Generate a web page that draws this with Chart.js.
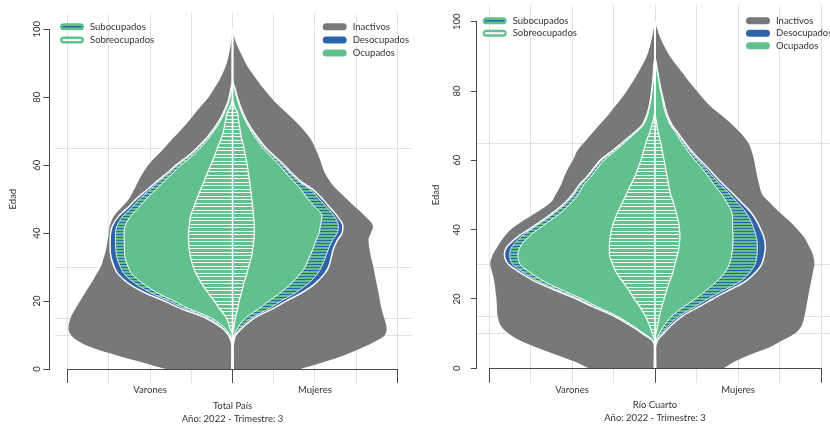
<!DOCTYPE html>
<html lang="es">
<head>
<meta charset="utf-8">
<title>Pirámides de condición de actividad</title>
<script src="https://cdn.jsdelivr.net/npm/chart.js@4.4.1/dist/chart.umd.min.js"></script>
<style>
  html, body { margin: 0; padding: 0; background: #fff; }
  .fila { display: flex; width: 830px; height: 424px; }
  .panel { position: relative; width: 415px; height: 424px; }
</style>
</head>
<body>
<div class="fila">
  <div class="panel"><canvas id="totalPais"></canvas></div>
  <div class="panel"><canvas id="rioCuarto"></canvas></div>
</div>
<script>
// Edades en las que se muestrea cada perfil (eje vertical)
const edades = [0,2,4,6,8,10,12,15,18,20,22,25,28,30,33,35,38,40,42,45,48,50,53,55,58,60,63,65,68,70,73,75,78,80,83,85,88,90,93,95,98,100];
const ticksEdad = [0,20,40,60,80,100];
const lineasEdad = [10,15,30,65];
const categorias = ['Varones','Mujeres'];
const leyendaIzq = ['Subocupados','Sobreocupados'];
const leyendaDer = ['Inactivos','Desocupados','Ocupados'];

// Total País: ancho de cada capa medido desde el eje central
const tpVaronesPoblacion = [1.62,2.20,2.80,3.35,3.72,3.92,3.98,3.93,3.80,3.70,3.60,3.44,3.30,3.20,3.12,3.07,3.03,3.00,2.98,2.88,2.66,2.52,2.38,2.30,2.16,2.05,1.82,1.66,1.44,1.28,1.06,0.93,0.72,0.58,0.42,0.32,0.20,0.14,0.08,0.05,0.015,0];
const tpVaronesActivos   = [0.018,0.016,0.014,0.012,0.03,0.10,0.25,0.65,1.30,1.65,2.05,2.50,2.78,2.87,2.95,2.97,2.97,2.96,2.92,2.76,2.50,2.34,2.05,1.86,1.56,1.37,1.05,0.87,0.63,0.50,0.33,0.24,0.13,0.08,0.03,0,0,0,0,0,0,0];
const tpVaronesOcupados  = [0.009,0.008,0.007,0.006,0.02,0.08,0.22,0.59,1.20,1.53,1.91,2.34,2.63,2.72,2.81,2.83,2.84,2.84,2.81,2.66,2.41,2.26,1.98,1.80,1.51,1.33,1.015,0.84,0.605,0.48,0.315,0.23,0.12,0.07,0.025,0,0,0,0,0,0,0];
const tpVaronesNoSub     = [0,0,0,0.003,0.012,0.06,0.18,0.51,1.10,1.41,1.76,2.15,2.44,2.53,2.61,2.62,2.63,2.63,2.61,2.47,2.24,2.10,1.84,1.68,1.42,1.25,0.955,0.79,0.57,0.45,0.295,0.21,0.11,0.06,0.015,0,0,0,0,0,0,0];
const tpVaronesSobre     = [0,0,0,0,0,0,0.06,0.15,0.33,0.44,0.57,0.74,0.88,0.95,1.02,1.05,1.07,1.07,1.05,1.02,0.93,0.87,0.77,0.70,0.60,0.53,0.43,0.37,0.27,0.22,0.17,0.14,0.03,0,0,0,0,0,0,0,0,0];

const tpMujeresPoblacion = [1.65,2.20,2.70,3.10,3.45,3.70,3.74,3.68,3.61,3.58,3.55,3.50,3.45,3.42,3.36,3.33,3.30,3.36,3.41,3.22,2.95,2.78,2.52,2.38,2.23,2.17,2.08,2.01,1.88,1.75,1.52,1.35,1.08,0.93,0.72,0.60,0.42,0.32,0.20,0.12,0.03,0];
const tpMujeresActivos   = [0.018,0.016,0.014,0.012,0.03,0.08,0.23,0.53,1.02,1.30,1.62,1.99,2.23,2.33,2.40,2.44,2.55,2.66,2.68,2.54,2.33,2.19,1.93,1.68,1.41,1.26,0.99,0.82,0.62,0.50,0.35,0.27,0.17,0.12,0.05,0,0,0,0,0,0,0];
const tpMujeresOcupados  = [0.009,0.008,0.007,0.006,0.02,0.06,0.19,0.46,0.92,1.18,1.47,1.82,2.06,2.16,2.26,2.32,2.43,2.54,2.57,2.47,2.26,2.11,1.87,1.63,1.365,1.22,0.955,0.79,0.595,0.48,0.335,0.26,0.16,0.11,0.045,0,0,0,0,0,0,0];
const tpMujeresNoSub     = [0,0,0,0.003,0.012,0.04,0.12,0.31,0.67,0.88,1.11,1.41,1.64,1.76,1.87,1.94,2.03,2.10,2.13,2.17,1.98,1.83,1.65,1.50,1.275,1.14,0.895,0.74,0.56,0.45,0.315,0.24,0.15,0.10,0.035,0,0,0,0,0,0,0];
const tpMujeresSobre     = [0,0,0,0,0,0,0.03,0.07,0.13,0.16,0.21,0.27,0.35,0.39,0.46,0.49,0.52,0.53,0.53,0.51,0.49,0.47,0.44,0.42,0.38,0.36,0.31,0.28,0.22,0.19,0.15,0.13,0.03,0,0,0,0,0,0,0,0,0];

// Río Cuarto
const rcVaronesPoblacion = [1.60,1.95,2.40,2.85,3.25,3.52,3.70,3.79,3.81,3.82,3.84,3.87,3.93,3.97,3.90,3.80,3.63,3.48,3.25,2.85,2.50,2.40,2.26,2.20,2.08,1.98,1.86,1.72,1.50,1.36,1.13,1.00,0.80,0.68,0.52,0.42,0.28,0.20,0.12,0.08,0.03,0];
const rcVaronesActivos   = [0.018,0.016,0.014,0.012,0.06,0.30,0.55,0.98,1.55,1.89,2.30,2.88,3.30,3.53,3.63,3.57,3.30,3.05,2.80,2.45,2.15,2.00,1.82,1.66,1.46,1.32,1.00,0.80,0.50,0.32,0.20,0.15,0.10,0.08,0.05,0.04,0.02,0,0,0,0,0];
const rcVaronesOcupados  = [0.009,0.008,0.007,0.006,0.05,0.28,0.53,0.95,1.50,1.83,2.23,2.80,3.21,3.43,3.50,3.45,3.22,3.00,2.75,2.40,2.105,1.96,1.785,1.63,1.43,1.29,0.975,0.78,0.485,0.31,0.19,0.145,0.095,0.075,0.045,0.035,0.015,0,0,0,0,0];
const rcVaronesNoSub     = [0,0,0,0.003,0.04,0.26,0.50,0.90,1.43,1.75,2.13,2.66,3.05,3.25,3.30,3.25,3.04,2.83,2.60,2.26,2.00,1.86,1.71,1.56,1.37,1.23,0.93,0.74,0.46,0.29,0.18,0.14,0.09,0.07,0.04,0.03,0.01,0,0,0,0,0];
const rcVaronesSobre     = [0,0,0,0,0,0.065,0.12,0.23,0.38,0.50,0.60,0.78,0.95,1.02,1.10,1.10,1.08,1.05,1.00,0.90,0.78,0.70,0.58,0.50,0.40,0.34,0.27,0.22,0.13,0.08,0.02,0,0,0,0,0,0,0,0,0,0,0];

const rcMujeresPoblacion = [1.65,1.93,2.30,2.75,3.06,3.36,3.52,3.60,3.65,3.68,3.71,3.76,3.81,3.84,3.80,3.72,3.58,3.44,3.28,3.00,2.75,2.59,2.51,2.47,2.42,2.39,2.32,2.25,2.05,1.89,1.60,1.39,1.15,1.01,0.80,0.68,0.48,0.36,0.22,0.14,0.05,0];
const rcMujeresActivos   = [0.018,0.016,0.014,0.012,0.06,0.20,0.36,0.65,1.10,1.39,1.70,2.17,2.45,2.57,2.64,2.66,2.62,2.55,2.47,2.31,2.07,1.91,1.65,1.49,1.26,1.09,0.86,0.73,0.55,0.42,0.30,0.25,0.19,0.15,0.10,0.07,0.03,0,0,0,0,0];
const rcMujeresOcupados  = [0.009,0.008,0.007,0.006,0.04,0.16,0.30,0.57,0.99,1.27,1.58,2.05,2.31,2.41,2.46,2.47,2.44,2.39,2.33,2.19,1.97,1.83,1.575,1.42,1.20,1.04,0.825,0.70,0.525,0.40,0.29,0.24,0.18,0.145,0.095,0.065,0.025,0,0,0,0,0];
const rcMujeresNoSub     = [0,0,0,0.003,0.025,0.10,0.20,0.40,0.72,0.97,1.18,1.48,1.70,1.79,1.85,1.87,1.88,1.87,1.87,1.85,1.72,1.62,1.42,1.30,1.11,0.96,0.77,0.65,0.50,0.38,0.27,0.22,0.17,0.135,0.09,0.06,0.02,0,0,0,0,0];
const rcMujeresSobre     = [0,0,0,0,0,0.02,0.06,0.11,0.17,0.22,0.27,0.35,0.44,0.48,0.55,0.58,0.60,0.59,0.57,0.51,0.44,0.38,0.33,0.30,0.25,0.22,0.17,0.14,0.08,0.05,0.01,0,0,0,0,0,0,0,0,0,0,0];

// Colores
const GRIS = '#76787a', AZUL = '#2f63a8', VERDE = '#62c08f', BLANCO = '#ffffff';
const GRILLA = '#e1e1e1', EJE = '#4a4a4a', TEXTO = '#333333';
const FUENTE = 'Lato, "Open Sans", sans-serif';
const TAM = 9.5;

// Rayado horizontal sobre fondo verde
function rayado(fondo, linea, alto, filas) {
  const c = document.createElement('canvas');
  c.width = 4; c.height = alto;
  const g = c.getContext('2d');
  g.fillStyle = fondo; g.fillRect(0, 0, 4, alto);
  g.fillStyle = linea;
  filas.forEach(f => g.fillRect(0, f, 4, 1));
  return g.createPattern(c, 'repeat');
}
const RAYADO_SUB = rayado(VERDE, AZUL, 3, [0]);
const RAYADO_SOBRE = rayado(VERDE, 'rgba(255,255,255,0.92)', 7, [0, 3]);

// Capas desde la exterior (población) hacia el centro (sobreocupados)
const capas = [
  { fondo: GRIS,         borde: 0,   orden: 5 },
  { fondo: AZUL,         borde: 1.5, orden: 4 },
  { fondo: RAYADO_SUB,   borde: 0.8, orden: 3 },
  { fondo: VERDE,        borde: 1,   orden: 2 },
  { fondo: RAYADO_SOBRE, borde: 1.2, orden: 1 }
];

const muestras = {
  Inactivos:     { color: GRIS },
  Desocupados:   { color: AZUL },
  Ocupados:      { color: VERDE },
  Subocupados:   { color: VERDE, interior: AZUL, ancho: 1.4 },
  Sobreocupados: { color: VERDE, interior: BLANCO, ancho: 2 }
};

const leyenda = {
  id: 'leyenda',
  afterDraw(chart, args, o) {
    const { ctx, chartArea: a } = chart;
    const grupos = [
      { x: a.left + o.dxIzq, items: leyendaIzq },
      { x: a.right + o.dxDer, items: leyendaDer }
    ];
    ctx.save();
    ctx.font = TAM + 'px ' + FUENTE;
    ctx.textBaseline = 'middle';
    ctx.textAlign = 'left';
    ctx.lineCap = 'round';
    grupos.forEach(g => {
      g.items.forEach((nombre, i) => {
        const y = a.top + o.dy + i * o.paso;
        const m = muestras[nombre];
        ctx.strokeStyle = m.color; ctx.lineWidth = 7;
        ctx.beginPath(); ctx.moveTo(g.x + 3.5, y); ctx.lineTo(g.x + 20.5, y); ctx.stroke();
        if (m.interior) {
          ctx.strokeStyle = m.interior; ctx.lineWidth = m.ancho;
          ctx.beginPath(); ctx.moveTo(g.x + 3, y); ctx.lineTo(g.x + 21, y); ctx.stroke();
        }
        ctx.fillStyle = TEXTO;
        ctx.fillText(nombre, g.x + 30, y);
      });
    });
    ctx.restore();
  }
};

function crearGrafico(id, series, cima, titulo, p) {
  const datasets = [];
  [[-1, series.varones], [1, series.mujeres]].forEach(([signo, valores]) => {
    valores.forEach((serie, k) => {
      const c = capas[k];
      datasets.push({
        data: edades.map((e, i) => ({ x: signo * serie[i], y: e })),
        showLine: true,
        fill: 'origin',
        backgroundColor: c.fondo,
        borderColor: BLANCO,
        borderWidth: c.borde,
        pointRadius: 0,
        pointHoverRadius: 0,
        cubicInterpolationMode: 'monotone',
        order: c.orden,
        xAxisID: 'x', yAxisID: 'y'
      });
    });
  });
  // Línea divisoria entre varones y mujeres
  datasets.push({
    data: [{ x: 0, y: 0 }, { x: 0, y: cima }],
    showLine: true, fill: false, borderColor: BLANCO, borderWidth: 1.6,
    pointRadius: 0, pointHoverRadius: 0, order: 0, xAxisID: 'x', yAxisID: 'y'
  });

  const fuente = { family: FUENTE, size: TAM };
  const ticksGrilla = s => { s.ticks = lineasEdad.map(v => ({ value: v })); };

  return new Chart(document.getElementById(id), {
    type: 'scatter',
    data: { datasets },
    plugins: [leyenda],
    options: {
      indexAxis: 'y',
      responsive: true,
      maintainAspectRatio: false,
      animation: false,
      devicePixelRatio: 1,
      events: [],
      layout: { padding: { left: 0, right: p.padDer, top: p.padSup, bottom: 0 } },
      plugins: {
        legend: { display: false },
        tooltip: { enabled: false },
        leyenda: { dxIzq: p.legIzq, dxDer: p.legDer, dy: p.legY, paso: p.legPaso }
      },
      scales: {
        x: {
          type: 'linear', axis: 'x', position: 'bottom', min: -4, max: 4,
          ticks: {
            stepSize: 1, autoSkip: false, maxRotation: 0, padding: 1,
            font: fuente, color: TEXTO,
            callback: v => v === -2 ? categorias[0] : (v === 2 ? categorias[1] : '')
          },
          grid: {
            color: GRILLA, lineWidth: 1, drawTicks: true, tickLength: p.extInf,
            tickColor: c => (c.tick && (Math.abs(c.tick.value) === 4 || c.tick.value === 0)) ? EJE : GRILLA
          },
          border: { display: true, color: EJE, width: 1, z: 1 },
          title: {
            display: true, text: titulo, color: TEXTO,
            font: { family: FUENTE, size: TAM, lineHeight: 1.36 },
            padding: { top: 0, bottom: p.titPad }
          },
          afterFit: s => { s.height = p.altInf; }
        },
        xSup: {
          type: 'linear', axis: 'x', position: 'top', min: -4, max: 4,
          ticks: { display: false, stepSize: 1, autoSkip: false },
          grid: { drawOnChartArea: false, drawTicks: true, tickLength: p.extSup, tickColor: GRILLA },
          border: { display: false },
          afterFit: s => { s.height = p.extSup; }
        },
        y: {
          type: 'linear', axis: 'y', position: 'left', min: 0, max: 100, weight: 1,
          afterBuildTicks: s => { s.ticks = ticksEdad.map(v => ({ value: v })); },
          ticks: {
            minRotation: 90, maxRotation: 90, crossAlign: 'center', padding: p.ticPad,
            font: fuente, color: TEXTO
          },
          grid: { drawOnChartArea: false, drawTicks: true, tickLength: 6, tickColor: EJE },
          border: { display: true, color: EJE, width: 1 },
          title: { display: true, text: 'Edad', color: TEXTO, font: fuente, padding: { top: p.edadPad, bottom: 0 } },
          afterFit: s => { s.width = p.ejeX; }
        },
        yGrilla: {
          type: 'linear', axis: 'y', position: 'left', min: 0, max: 100, weight: 0,
          afterBuildTicks: ticksGrilla,
          ticks: { display: false },
          grid: { color: GRILLA, lineWidth: 1, drawTicks: true, tickLength: p.extIzq, tickColor: GRILLA },
          border: { display: false },
          afterFit: s => { s.width = p.sepIzq; }
        },
        yGrillaDer: {
          type: 'linear', axis: 'y', position: 'right', min: 0, max: 100,
          afterBuildTicks: ticksGrilla,
          ticks: { display: false },
          grid: { drawOnChartArea: false, drawTicks: true, tickLength: p.extDer, tickColor: GRILLA },
          border: { display: false },
          afterFit: s => { s.width = p.extDer; }
        }
      }
    }
  });
}

crearGrafico('totalPais',
  {
    varones: [tpVaronesPoblacion, tpVaronesActivos, tpVaronesOcupados, tpVaronesNoSub, tpVaronesSobre],
    mujeres: [tpMujeresPoblacion, tpMujeresActivos, tpMujeresOcupados, tpMujeresNoSub, tpMujeresSobre]
  },
  99, ['Total País', 'Año: 2022 - Trimestre: 3'],
  { padSup: 13, extSup: 16.3, altInf: 55, extInf: 14, titPad: -1.7,
    ejeX: 49.3, sepIzq: 18.4, extIzq: 12.7, extDer: 14.7, padDer: 3,
    ticPad: -1.5, edadPad: 7.6,
    legIzq: -7.7, legDer: -74.6, legY: -2.5, legPaso: 13.1 });

crearGrafico('rioCuarto',
  {
    varones: [rcVaronesPoblacion, rcVaronesActivos, rcVaronesOcupados, rcVaronesNoSub, rcVaronesSobre],
    mujeres: [rcMujeresPoblacion, rcMujeresActivos, rcMujeresOcupados, rcMujeresNoSub, rcMujeresSobre]
  },
  100, ['Río Cuarto', 'Año: 2022 - Trimestre: 3'],
  { padSup: 5, extSup: 16.7, altInf: 55.7, extInf: 14.5, titPad: -0.7,
    ejeX: 61.7, sepIzq: 12.3, extIzq: 12.3, extDer: 9, padDer: 0,
    ticPad: 5.2, edadPad: 15,
    legIzq: -6.3, legDer: -75, legY: -1, legPaso: 12.5 });
</script>
</body>
</html>
